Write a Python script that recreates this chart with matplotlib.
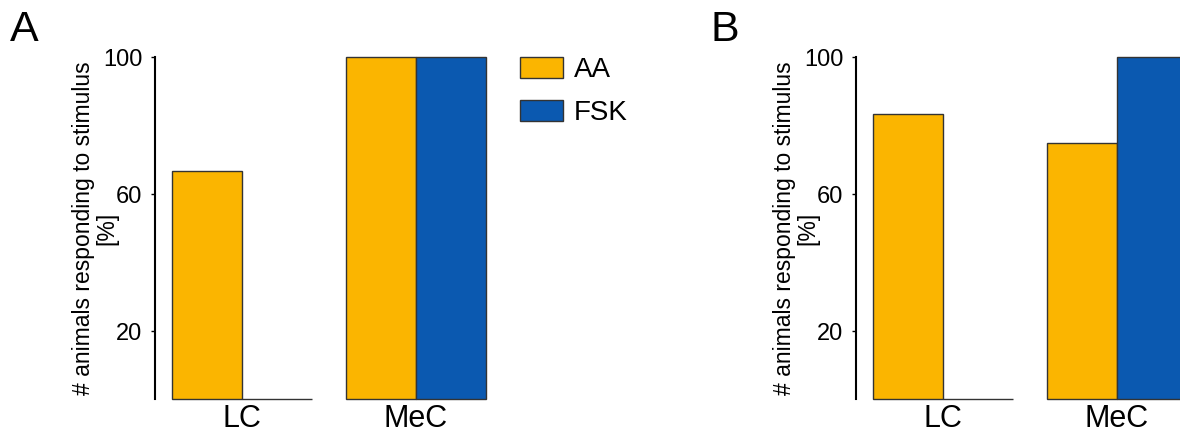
import matplotlib.pyplot as plt
import numpy as np

plt.rcParams['font.family'] = ['Liberation Sans', 'DejaVu Sans']

# data
regions = ['LC', 'MeC']
treatments = ['AA', 'FSK']
panel_a_aa = [66.7, 100]
panel_a_fsk = [0, 100]
panel_b_aa = [83.3, 75]
panel_b_fsk = [0, 100]
yticks = [20, 60, 100]
ylabel_lines = ['# animals responding to stimulus', '[%]']

orange = '#FBB500'
blue = '#0B59B0'
edge = '#333333'

fig = plt.figure(figsize=(11.8, 4.34), dpi=100)

def draw_panel(left, aa, fsk, letter):
    ax = fig.add_axes([left, 0.0795, 0.2949, 0.789])
    x = np.arange(len(regions))
    w = 0.4
    b1 = ax.bar(x - w / 2, aa, w, color=orange, edgecolor=edge, linewidth=1,
                label=treatments[0], clip_on=False)
    b2 = ax.bar(x + w / 2, fsk, w, color=blue, edgecolor=edge, linewidth=1,
                label=treatments[1], clip_on=False)
    ax.set_xlim(-0.5, 1.5)
    ax.set_ylim(0, 100)
    ax.set_yticks(yticks)
    ax.set_xticks(x)
    ax.set_xticklabels(regions, fontsize=22)
    ax.tick_params(axis='x', length=0, pad=3)
    ax.tick_params(axis='y', labelsize=17, length=3, width=1, pad=6)
    for s in ['top', 'right', 'bottom']:
        ax.spines[s].set_visible(False)
    ax.spines['left'].set_linewidth(1.5)
    # two-line y label, drawn as two texts so the short second line sits centred
    ax.text(-0.205, 0.5, ylabel_lines[0], rotation=90, ha='center', va='center',
            fontsize=16.5, transform=ax.transAxes)
    ax.text(-0.138, 0.5, ylabel_lines[1], rotation=90, ha='center', va='center',
            fontsize=16.5, transform=ax.transAxes)
    fig.text(left - 0.123, 0.905, letter, fontsize=31)
    return ax, b1, b2

ax_a, h1, h2 = draw_panel(0.1314, panel_a_aa, panel_a_fsk, 'A')
ax_b, _, _ = draw_panel(0.7254, panel_b_aa, panel_b_fsk, 'B')

fig.legend([h1, h2], treatments, loc='upper left', bbox_to_anchor=(0.431, 0.895),
           frameon=False, fontsize=20, handlelength=1.55, handleheight=0.8,
           labelspacing=0.62, handletextpad=0.4, borderaxespad=0)

fig.savefig('out.png', dpi=100)
